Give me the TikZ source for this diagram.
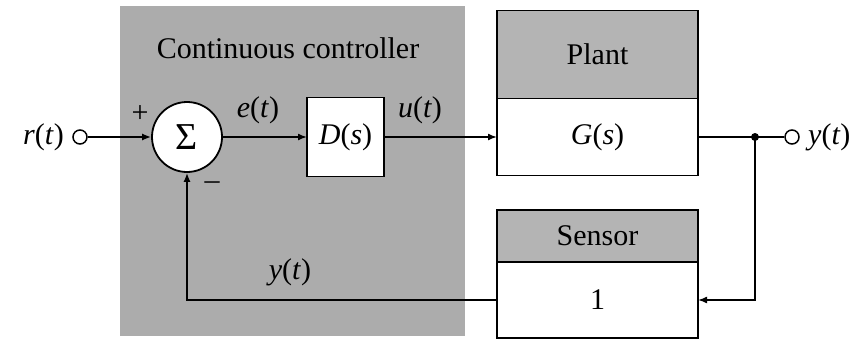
\documentclass[tikz,border=0pt]{standalone}
\usepackage{fontspec}
\setmainfont{Liberation Serif}
\usetikzlibrary{arrows.meta}

\definecolor{panelgray}{RGB}{172,172,172}
\definecolor{headgray}{RGB}{180,180,180}

\newcommand\sig[1]{\textit{#1}(\textit{t})}

\begin{document}
\begin{tikzpicture}[x=1pt,y=-1pt,
  wire/.style={line width=1.5pt},
  arr/.style={wire,-{Latex[length=9pt,width=7pt]}},
  blk/.style={draw,line width=1.8pt,fill=white,rectangle,inner sep=0pt,outer sep=0pt,
    font=\fontsize{30}{32}\selectfont},
  hdr/.style={blk,fill=headgray},
  lbl/.style={font=\fontsize{30}{32}\selectfont,inner sep=0pt},
  port/.style={circle,draw,line width=1.5pt,fill=white,minimum size=14pt,inner sep=0pt},
]
\useasboundingbox (0,0) rectangle (866,340);

% controller panel
\fill[panelgray] (120,6) rectangle (465,336);
\node[lbl] (ctitle) at (288,48) {Continuous controller};

% summing junction and controller block
\node[circle,draw,line width=1.8pt,fill=white,minimum size=70pt,inner sep=0pt,
  font=\fontsize{38}{40}\selectfont] (sum) at (187,137) {Σ};
\node[blk,minimum width=77pt,minimum height=79pt] (ctrl) at (345.5,137) {\textit{D}(\textit{s})};

% plant: shaded title part above the transfer function part
\node[hdr,minimum width=201pt,minimum height=88pt] (planthd) at (597.5,54.5) {Plant};
\node[blk,minimum width=201pt,minimum height=77pt,anchor=north] (plant) at (planthd.south) {\textit{G}(\textit{s})};

% sensor
\node[hdr,minimum width=201pt,minimum height=52pt] (sensorhd) at (597.5,236) {Sensor};
\node[blk,minimum width=201pt,minimum height=76pt,anchor=north] (sensor) at (sensorhd.south) {1};

% input and output ports
\node[port] (rin) at (80,137) {};
\node[port] (yout) at (792,137) {};
\node[lbl,anchor=east] (rlbl) at (64,137) {\sig{r}};
\node[lbl,anchor=west] (ylbl) at (808,137) {\sig{y}};
\coordinate (jn) at (755,137);
\fill (jn) circle (4pt);

% signal labels
\node[lbl] (elbl) at (258,110) {\sig{e}};
\node[lbl] (ulbl) at (420,110) {\sig{u}};
\node[lbl] (yfb) at (290,272) {\sig{y}};
\node[lbl] (plus) at (140,114) {+};
\node[lbl] (minus) at (212,186) {\textendash};

% connectors
\draw[arr] (rin) -- (sum);
\draw[arr] (sum) -- (ctrl);
\draw[arr] (ctrl) -- (plant.west);
\draw[wire] (plant.east) -- (jn) -- (yout);
\draw[arr] (jn) |- (sensor.east);
\draw[arr] (sensor.west) -| (sum.south);
\end{tikzpicture}
\end{document}
